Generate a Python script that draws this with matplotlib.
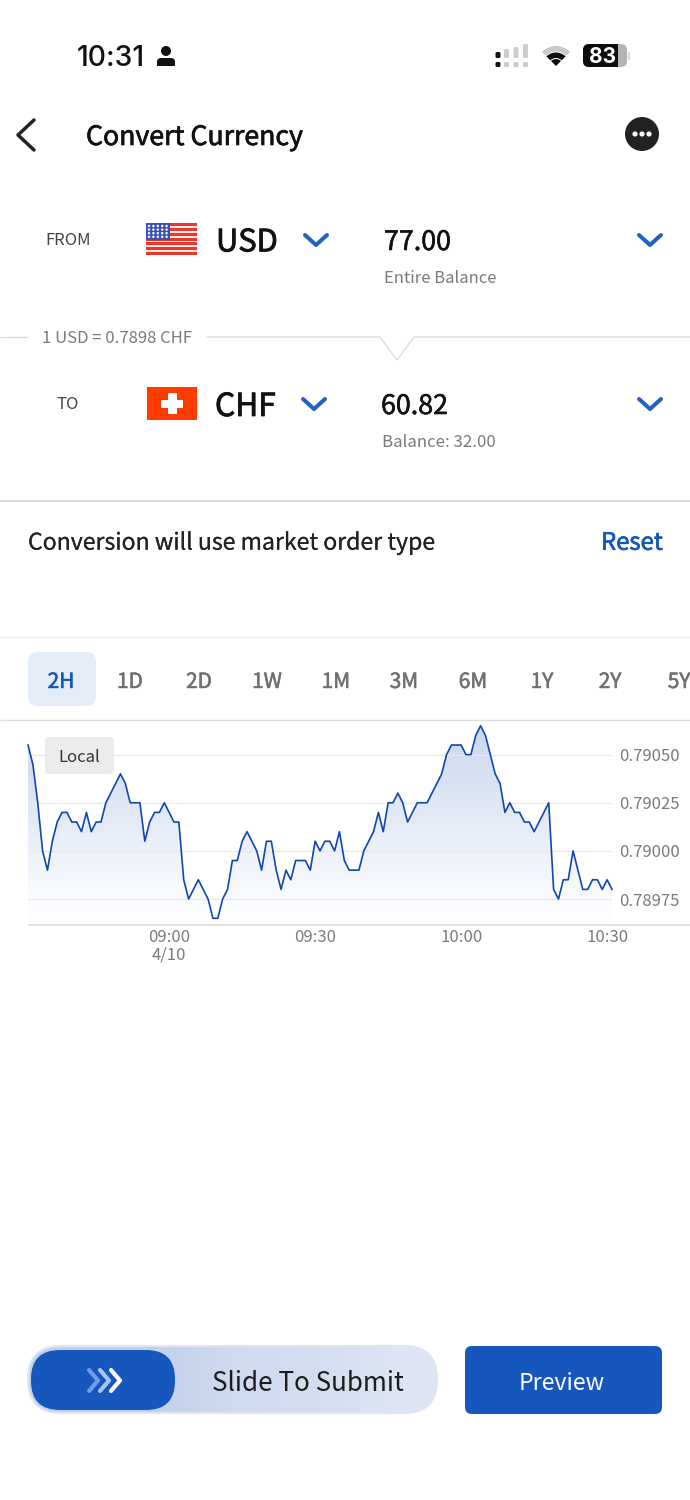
#!/usr/bin/env python3

import numpy as np
import pandas as pd
import matplotlib
matplotlib.use("Agg")
import matplotlib.pyplot as plt
import matplotlib.dates as mdates
import matplotlib.patheffects as pe
from matplotlib.patches import Rectangle, Circle, FancyBboxPatch, Wedge

plt.rcParams['font.family'] = ['Noto Sans CJK SC', 'DejaVu Sans']

# one price per minute, 08:31 to 10:31
rates = [
    .79055, .79045, .79025, .79000, .78990, .79005, .79015, .79020, .79020, .79015,
    .79015, .79010, .79020, .79010, .79015, .79015, .79025, .79030, .79035, .79040,
    .79035, .79025, .79025, .79025, .79005, .79015, .79020, .79020, .79025, .79020,
    .79015, .79015, .78985, .78975, .78980, .78985, .78980, .78975, .78965, .78965,
    .78975, .78980, .78995, .78995, .79005, .79010, .79005, .79000, .78990, .79005,
    .79005, .78990, .78980, .78990, .78985, .78995, .78995, .78995, .78990, .79005,
    .79000, .79005, .79005, .79000, .79010, .78995, .78990, .78990, .78990, .79000,
    .79005, .79010, .79020, .79010, .79025, .79025, .79030, .79025, .79015, .79020,
    .79025, .79025, .79025, .79030, .79035, .79040, .79050, .79055, .79055, .79055,
    .79050, .79050, .79060, .79065, .79060, .79050, .79040, .79035, .79020, .79025,
    .79020, .79020, .79015, .79015, .79010, .79015, .79020, .79025, .78980, .78975,
    .78985, .78985, .79000, .78990, .78980, .78980, .78985, .78985, .78980, .78985,
    .78980,
]
times = pd.date_range("2025-04-10 08:31", periods=len(rates), freq="min")

y_ticks = [.78975, .79000, .79025, .79050]
x_ticks = ["2025-04-10 09:00", "2025-04-10 09:30", "2025-04-10 10:00", "2025-04-10 10:30"]
x_tick_labels = ["09:00\n4/10", "09:30", "10:00", "10:30"]
periods = ["2H", "1D", "2D", "1W", "1M", "3M", "6M", "1Y", "2Y", "5Y"]
period_x = [61, 130, 199, 267, 336, 404, 473, 542, 610, 679]

BLUE = "#1557bd"
CHEV = "#2062c2"
GRAY = "#7a7a7a"
DARK = "#1a1a1a"
LINE = "#dcdcdc"

W, H = 690, 1500
fig = plt.figure(figsize=(W / 100, H / 100), dpi=100, facecolor="white")

# price chart
ax = fig.add_axes([28 / W, 1 - 925 / H, (612 - 28) / W, (925 - 720) / H])
ax.patch.set_alpha(0)
for s in ax.spines.values():
    s.set_visible(False)
ylo, yhi = .789615, .79068
ax.set_ylim(ylo, yhi)
xnum = mdates.date2num(times)
ax.set_xlim(xnum[0], xnum[-1])
ax.plot(times, rates, color="#0f47ad", lw=1.2, zorder=3, solid_joinstyle="round", clip_on=False)
fill = ax.fill_between(times, rates, ylo, color="none", lw=0)
grad = np.ones((256, 1, 4))
grad[:, 0, 0] = 0.72
grad[:, 0, 1] = 0.79
grad[:, 0, 2] = 0.91
grad[:, 0, 3] = np.linspace(0.8, 0.0, 256) ** 1.1
im = ax.imshow(grad, extent=[xnum[0], xnum[-1], ylo, yhi], aspect="auto", origin="upper", zorder=1)
im.set_clip_path(fill.get_paths()[0], transform=ax.transData)
ax.set_xlim(xnum[0], xnum[-1])
ax.set_ylim(ylo, yhi)
ax.set_yticks(y_ticks)
ax.set_yticklabels(["%.5f" % v for v in y_ticks])
ax.yaxis.tick_right()
ax.set_xticks(pd.to_datetime(x_ticks))
ax.set_xticklabels(x_tick_labels, linespacing=1.0)
ax.tick_params(axis="both", length=0, labelsize=12, labelcolor=GRAY)
ax.tick_params(axis="y", pad=5.2)
ax.tick_params(axis="x", pad=3)
ax.grid(axis="y", color="#e9e9e9", lw=0.9, zorder=2)
ax.set_axisbelow(False)

# the rest of the screen, in pixel coordinates
ui = fig.add_axes([0, 0, 1, 1], zorder=5)
ui.set_xlim(0, W)
ui.set_ylim(H, 0)
ui.axis("off")


def hline(y, x0=0, x1=W, c=LINE, lw=1.0):
    ui.plot([x0, x1], [y, y], color=c, lw=lw, solid_capstyle="butt")


def txt(x, y, s, size, color=DARK, ha="left", heavy=0, **kw):
    t = ui.text(x, y + size * 0.13, s, fontsize=size, color=color, ha=ha, va="center", **kw)
    if heavy:
        t.set_path_effects([pe.withStroke(linewidth=heavy, foreground=color)])


def chevron(x, y, w=11, h=10, c=CHEV, lw=2.9):
    ui.plot([x - w, x, x + w], [y - h / 2, y + h / 2, y - h / 2], color=c, lw=lw,
            solid_capstyle="round", solid_joinstyle="round")


def box(x0, y0, x1, y1, r, fc, ec="none", lw=0, z=2):
    p = FancyBboxPatch((x0, y0), x1 - x0, y1 - y0, boxstyle="round,pad=0,rounding_size=%s" % r,
                       fc=fc, ec=ec, lw=lw, zorder=z)
    ui.add_patch(p)
    return p


# status bar
txt(77, 55.5, "10:31", 20.4, "#111111", family="Inter", weight="medium")
ui.add_patch(Circle((166, 51), 5, fc="#111111", lw=0))
box(157, 58, 175, 66, 4, "#111111")
ui.add_patch(Rectangle((157, 62), 18, 4, fc="#111111", lw=0))
bar_x = [498, 506.5, 516, 525.5]
bar_top = [52, 49, 47, 44]
for i, (bx, bt) in enumerate(zip(bar_x, bar_top)):
    c = "#111111" if i == 0 else "#cccccc"
    box(bx - 2.5, bt, bx + 2.5, 58, 1.5, c)
    box(bx - 2.5, 62, bx + 2.5, 67, 1.5, c)
ui.add_patch(Wedge((556, 66), 20, 225, 315, width=5.5, fc="#c9c9c9", lw=0))
ui.add_patch(Wedge((556, 66), 13.5, 225, 315, width=5.5, fc="#111111", lw=0))
ui.add_patch(Wedge((556, 66), 7, 225, 315, fc="#111111", lw=0))
box(583, 44, 627, 67, 6, "#b4b4b4")
box(583, 44, 618, 67, 6, "#0c0c0c", z=3)
ui.add_patch(Rectangle((608, 44), 10, 23, fc="#0c0c0c", lw=0, zorder=3))
ui.add_patch(Rectangle((628, 52), 2, 8, fc="#d8d8d8", lw=0))
txt(603, 55, "83", 15, "white", ha="center", weight="bold", zorder=4, family="Inter")

# header
ui.plot([34, 18, 34], [120, 135, 150], color="#222222", lw=2.5, solid_capstyle="round", solid_joinstyle="round")
txt(86, 135, "Convert Currency", 19.2, "#111111", heavy=0.5)
ui.add_patch(Circle((642, 134), 17, fc="#222222", lw=0))
for dx in (-7, 0, 7):
    ui.add_patch(Circle((642 + dx, 134), 2.6, fc="white", lw=0, zorder=3))

# from row
txt(68, 239, "FROM", 12, "#444444", ha="center")
ui.add_patch(Rectangle((146, 223), 51, 32, fc="#fbe9e7", lw=0))
for i in range(7):
    ui.add_patch(Rectangle((146, 223 + i * 4.85), 51, 3.0, fc="#e53a2c", lw=0))
ui.add_patch(Rectangle((146, 223), 24, 17, fc="#3c50b4", lw=0, zorder=3))
for row in range(4):
    for col in range(5):
        ui.add_patch(Circle((149 + col * 4.4, 226 + row * 3.6), 1.2, fc="white", lw=0, zorder=4))
txt(216, 240, "USD", 22.2, "#111111", heavy=0.6)
chevron(316, 240)
txt(384, 240, "77.00", 19.3, "#111111", heavy=0.4)
txt(384, 276.5, "Entire Balance", 12, GRAY)
chevron(650, 240)

# rate divider
hline(337, 0, 28)
txt(42, 336.5, "1 USD = 0.7898 CHF", 12, GRAY)
ui.plot([207, 380, 397, 414, W], [337, 337, 360, 337, 337], color=LINE, lw=1.0)

# to row
txt(68, 403, "TO", 12, "#444444", ha="center")
ui.add_patch(Rectangle((147, 387), 50, 33, fc="#ff3b00", lw=0))
ui.add_patch(Rectangle((168, 393), 9, 21, fc="white", lw=0))
ui.add_patch(Rectangle((161, 399.5), 22, 8, fc="white", lw=0))
txt(215, 404, "CHF", 22.8, "#111111", heavy=0.6)
chevron(314, 404)
txt(381, 404, "60.82", 19.3, "#111111", heavy=0.4)
txt(381.5, 440.5, "Balance: 32.00", 12.1, GRAY)
chevron(650, 404)

hline(501, lw=1.3, c="#d6d6d6")
txt(28, 541, "Conversion will use market order type", 16.6, "#222222", heavy=0.1)
txt(601, 541, "Reset", 17.2, "#1557b8", heavy=0.5)
hline(637, c="#efefef")
hline(719.5, c="#dedede")

# period tabs
box(28, 652, 96, 706, 10, "#e4ecf8")
for i, (name, x) in enumerate(zip(periods, period_x)):
    c = "#1557b8" if i == 0 else "#707070"
    txt(x, 680, name, 15, c, ha="center", heavy=0.4)

box(45, 737, 114, 774, 4, "#ebebeb")
txt(79, 755.5, "Local", 12, "#333333", ha="center")
hline(925, 28, W, c="#dcdcdc", lw=1.2)

# slider
pill = box(28, 1346, 437, 1413, 33, "#c6d5ed")
slide = np.array([[0.0, 0.0, 0.45, 0.62, 1.0]])
slide_rgb = np.stack([np.interp(slide, [0, 1], [a, b]) for a, b in
                      zip((0.76, 0.82, 0.92), (0.87, 0.90, 0.96))], axis=-1)
sim = ui.imshow(slide_rgb, extent=[28, 437, 1413, 1346], aspect="auto", interpolation="bilinear", zorder=2)
sim.set_clip_path(pill)
ui.set_xlim(0, W)
ui.set_ylim(H, 0)
box(28, 1346, 437, 1413, 33, "none", ec="#dde6f5", lw=1.5, z=2.5)
box(31, 1350, 175, 1410, 29, BLUE, z=3)
for x, c in zip((93, 104, 115), ("#6f9de6", "#a8c5f2", "#ffffff")):
    ui.plot([x - 4, x + 5, x - 4], [1370, 1380.5, 1391], color=c, lw=3, zorder=4,
            solid_capstyle="round", solid_joinstyle="round")
txt(308, 1381, "Slide To Submit", 18.7, "#1c1c1c", ha="center", zorder=4)
box(465, 1346, 662, 1414, 7, BLUE)
txt(562, 1381, "Preview", 16.6, "white", ha="center", zorder=4)

fig.savefig("out.png", dpi=100)
